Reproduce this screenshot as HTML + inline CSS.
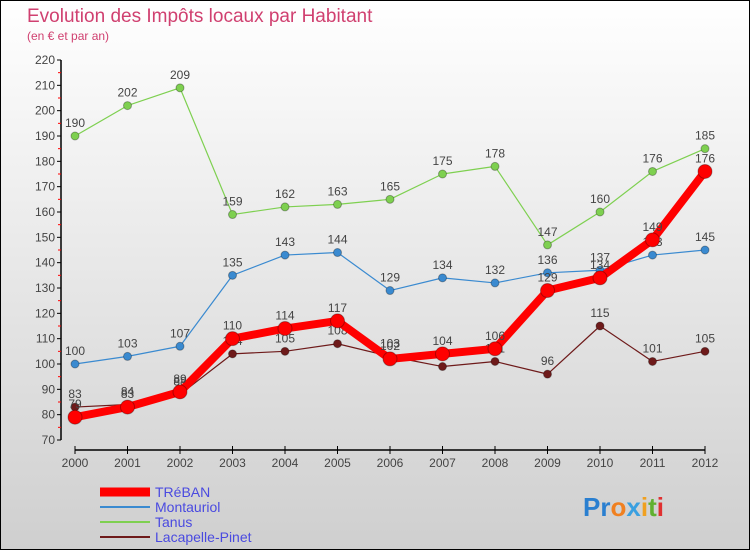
<!DOCTYPE html>
<html><head><meta charset="utf-8"><style>
body{margin:0;}
#c{width:750px;height:550px;position:relative;font-family:"Liberation Sans",sans-serif;}
</style></head><body>
<div id="c">
<svg id="s" width="750" height="550" xmlns="http://www.w3.org/2000/svg">
<defs><linearGradient id="bg" x1="0" y1="0" x2="0" y2="1"><stop offset="0" stop-color="#ffffff"/><stop offset="1" stop-color="#cfcfcf"/></linearGradient></defs>
<rect x="0.5" y="0.5" width="749" height="549" fill="url(#bg)" stroke="#000"/>
<text x="27" y="22" font-size="19" fill="#d04070">Evolution des Impôts locaux par Habitant</text>
<text x="27" y="40" font-size="12" fill="#d04070">(en € et par an)</text>
<g id="axes"></g><g id="series"></g><g id="legend"></g>
<g font-size="26" font-weight="bold">
<text x="583" y="516"><tspan fill="#2a7fd0">Pr</tspan><tspan fill="#f08020">o</tspan><tspan fill="#3aa0e0">x</tspan><tspan fill="#f0a020">i</tspan><tspan fill="#60b030">t</tspan><tspan fill="#e03030">i</tspan></text>
</g>
</svg>
</div>
<script>
const years=[2000,2001,2002,2003,2004,2005,2006,2007,2008,2009,2010,2011,2012];
const yTicks=[70,80,90,100,110,120,130,140,150,160,170,180,190,200,210,220];
const treban=[79,83,89,110,114,117,102,104,106,129,134,149,176];
const montauriol=[100,103,107,135,143,144,129,134,132,136,137,143,145];
const tanus=[190,202,209,159,162,163,165,175,178,147,160,176,185];
const lacapelle=[83,84,88,104,105,108,103,99,101,96,115,101,105];
const NS="http://www.w3.org/2000/svg";
function X(i){return 75+i*52.5;}
function Y(v){return 440-(v-70)*380/150;}
function mk(tag,attrs,parent,txt){const e=document.createElementNS(NS,tag);for(const k in attrs)e.setAttribute(k,attrs[k]);if(txt!==undefined)e.textContent=txt;parent.appendChild(e);return e;}
const ax=document.getElementById('axes');
let l=mk('line',{x1:61,y1:Y(220),x2:61,y2:Y(70),stroke:'#000','stroke-width':1.5},ax);


yTicks.forEach(v=>{
 mk('line',{x1:57,y1:Y(v),x2:61,y2:Y(v),stroke:'#000'},ax);
 if(v<220) mk('line',{x1:58,y1:Y(v+5),x2:61,y2:Y(v+5),stroke:'#f00'},ax);
 const t=mk('text',{x:55,y:Y(v)+4,'font-size':12,fill:'#444','text-anchor':'end'},ax,v);
 
 
});
let xl=mk('line',{x1:X(0),y1:450,x2:X(12),y2:450,stroke:'#000','stroke-width':1.5},ax);


years.forEach((y,i)=>{
 mk('line',{x1:X(i),y1:446,x2:X(i),y2:454,stroke:'#000'},ax);
 const t=mk('text',{x:X(i),y:467,'font-size':12,fill:'#444','text-anchor':'middle'},ax,y);
 
 
});
const sg=document.getElementById('series');
const series=[
 {name:'lacapelle',data:lacapelle,color:'#6e1a1a',w:1.2,r:4},
 {name:'montauriol',data:montauriol,color:'#3a8ad0',w:1.2,r:4},
 {name:'tanus',data:tanus,color:'#7ed050',w:1.2,r:4},
 {name:'treban',data:treban,color:'#ff0000',w:8,r:7}
];
series.forEach(s=>{
 const g=mk('g',{},sg);
 
 
 const p=mk('polyline',{points:s.data.map((v,i)=>X(i)+','+Y(v)).join(' '),fill:'none',stroke:s.color,'stroke-width':s.w,'stroke-linejoin':'round'},g);
 
 
 s.data.forEach((v,i)=>{
  const c=mk('circle',{cx:X(i),cy:Y(v),r:s.r,fill:s.color,stroke:'rgba(0,0,0,0.3)'},g);
  
  
  const t=mk('text',{x:X(i),y:Y(v)-9,'font-size':12,fill:'#444','text-anchor':'middle'},g,v);
  
  
 });
});
const lg=document.getElementById('legend');
const items=[['TRéBAN','#ff0000',9],['Montauriol','#3a8ad0',2],['Tanus','#7ed050',2],['Lacapelle-Pinet','#6e1a1a',2]];
items.forEach((it,i)=>{
 const y=492+i*15;
 const g=mk('g',{},lg);
 
 
 mk('line',{x1:100,y1:y,x2:150,y2:y,stroke:it[1],'stroke-width':it[2]},g);
 mk('text',{x:155,y:y+5,'font-size':14,fill:'#4a4ae0'},g,it[0]);
});
</script>
</body></html>
